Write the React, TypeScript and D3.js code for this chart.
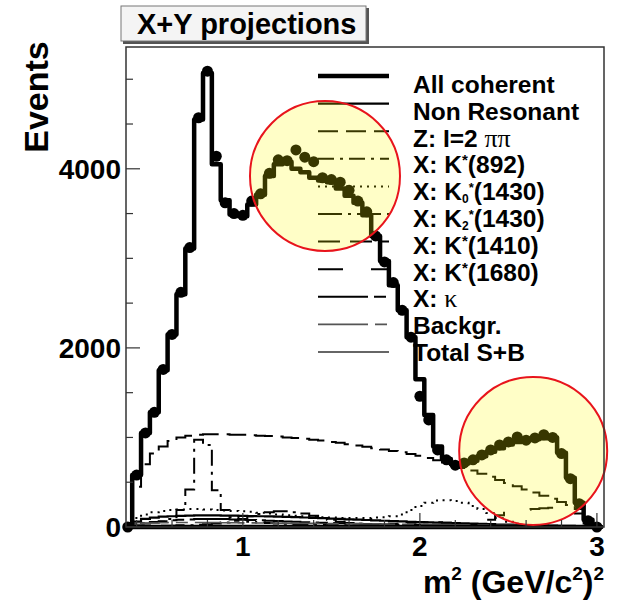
import React from "react";
import * as d3 from "d3";

// bins of 0.05 GeV^2 starting at 0.325
const binStart = 0.325;
const binWidth = 0.05;

const allCoherent = [0, 580, 1050, 1280, 1750, 2150, 2600, 3110, 4550, 5070, 4050, 3650, 3490, 3470, 3600, 3710, 3920, 4050, 4080, 4000, 3960, 3900, 3870, 3850, 3780, 3700, 3620, 3480, 3250, 2970, 2700, 2420, 2120, 1650, 1250, 900, 760, 700, 710, 740, 790, 840, 880, 920, 950, 970, 980, 990, 1000, 830, 550, 270, 80, 0];
const dataPoints = [0, 580, 1050, 1280, 1760, 2150, 2620, 3120, 4570, 5090, 4140, 3620, 3500, 3480, 3640, 3720, 3950, 4100, 4090, 4210, 4130, 4080, 3900, 3880, 3850, 3760, 3640, 3520, 3250, 2960, 2730, 2420, 2120, 1460, 1195, 860, 750, 690, 715, 750, 805, 860, 916, 950, 1005, 970, 995, 1030, 1000, 820, 540, 260, 70, 0];
const nonResonant = [0, 60, 90, 105, 115, 120, 125, 128, 130, 130, 130, 128, 126, 124, 122, 120, 118, 115, 112, 110, 106, 102, 98, 94, 90, 86, 82, 78, 74, 70, 66, 62, 58, 55, 52, 49, 46, 43, 40, 37, 34, 31, 28, 26, 24, 22, 20, 18, 16, 14, 12, 8, 4, 0];
const zI2 = [0, 450, 700, 820, 900, 960, 1000, 1020, 1030, 1035, 1035, 1035, 1030, 1030, 1025, 1020, 1015, 1010, 1000, 995, 985, 975, 965, 950, 940, 925, 910, 895, 880, 865, 850, 835, 815, 795, 770, 745, 720, 690, 660, 630, 595, 560, 525, 490, 455, 420, 385, 350, 315, 280, 245, 200, 80, 0];
const k892 = [0, 30, 40, 50, 60, 90, 190, 420, 975, 915, 410, 190, 110, 80, 60, 50, 45, 40, 35, 30, 30, 25, 25, 20, 20, 20, 15, 15, 15, 15, 10, 10, 10, 10, 10, 10, 10, 10, 10, 10, 10, 10, 10, 10, 10, 10, 10, 10, 10, 10, 10, 5, 5, 0];
const k0_1430 = [0, 100, 140, 165, 180, 190, 195, 200, 200, 195, 190, 185, 180, 175, 170, 160, 150, 140, 130, 125, 120, 115, 110, 105, 100, 100, 100, 100, 105, 110, 120, 140, 190, 235, 270, 295, 300, 290, 270, 235, 200, 156, 100, 60, 35, 20, 15, 10, 10, 10, 5, 5, 0, 0];
const k2_1430 = [0, 10, 10, 10, 15, 15, 20, 20, 25, 30, 40, 50, 70, 90, 120, 145, 165, 175, 175, 165, 150, 125, 100, 80, 60, 45, 35, 25, 20, 15, 10, 10, 10, 10, 10, 10, 10, 10, 10, 10, 10, 10, 10, 10, 10, 5, 5, 5, 5, 5, 5, 0, 0, 0];
const k1410 = [0, 5, 5, 5, 5, 5, 5, 5, 5, 5, 5, 5, 5, 5, 5, 5, 5, 5, 5, 5, 5, 5, 5, 5, 5, 5, 10, 15, 20, 28, 35, 42, 48, 52, 54, 52, 48, 42, 35, 28, 20, 15, 10, 5, 5, 5, 5, 5, 5, 5, 5, 5, 5, 5];
const k1680 = [0, 5, 5, 5, 5, 5, 5, 5, 5, 5, 5, 5, 5, 5, 5, 5, 5, 5, 5, 5, 5, 5, 5, 5, 5, 5, 5, 5, 5, 5, 5, 5, 5, 5, 5, 5, 5, 15, 25, 40, 60, 80, 130, 160, 180, 192, 200, 210, 215, 222, 220, 150, 40, 0];
const kappa = [0, 20, 40, 55, 65, 75, 80, 85, 88, 90, 90, 88, 85, 82, 78, 74, 70, 66, 62, 58, 54, 50, 47, 44, 41, 38, 35, 33, 31, 29, 27, 25, 23, 21, 20, 19, 18, 17, 16, 15, 14, 13, 12, 11, 10, 9, 8, 7, 6, 5, 4, 3, 2, 0];
const backgr = [0, 30, 40, 45, 48, 50, 50, 50, 50, 50, 50, 48, 48, 46, 46, 45, 44, 43, 42, 41, 40, 40, 39, 38, 37, 36, 35, 34, 33, 32, 31, 30, 30, 29, 28, 27, 26, 25, 24, 23, 22, 21, 20, 20, 19, 18, 17, 16, 15, 14, 12, 10, 6, 0];

const xTickLabels = [1, 2, 3];
const yTickLabels = [0, 2000, 4000];

// highlighted regions (data coords, radius in px)
const highlights = [
  { x: 1.464, y: 3920, r: 75 },
  { x: 2.64, y: 850, r: 74 },
];

// legend entries, top to bottom
const legendStyles = [
  { w: 4.5, dash: "none", color: "#000" },
  { w: 2.2, dash: "none", color: "#000" },
  { w: 2, dash: "20,8", color: "#000" },
  { w: 2, dash: "16,6,3,6", color: "#000" },
  { w: 2, dash: "2,5", color: "#000" },
  { w: 2, dash: "24,6,3,6", color: "#000" },
  { w: 2, dash: "22,10", color: "#000" },
  { w: 2, dash: "25,28", color: "#000" },
  { w: 2, dash: "50,6,12,6", color: "#000" },
  { w: 1.6, dash: "50,7,12,7", color: "#555" },
  { w: 1.6, dash: "none", color: "#333" },
];

const FONT = "Liberation Sans, Arial, Helvetica, sans-serif";
const SERIF = "Liberation Serif, DejaVu Serif, serif";

const left = 126, right = 604, top = 47, bottom = 527;

const x = d3.scaleLinear().domain([0.34, 3.04]).range([left, right]);
const y = d3.scaleLinear().domain([0, 5360]).range([bottom, top]);

function histPath(vals: number[]) {
  const pts: [number, number][] = [[binStart, 0]];
  vals.forEach((v, i) => {
    const a = binStart + i * binWidth;
    pts.push([a, v], [a + binWidth, v]);
  });
  pts.push([binStart + vals.length * binWidth, 0]);
  return d3.line<[number, number]>().x((d) => x(d[0])).y((d) => y(d[1]))(pts) || "";
}

function legendLabel(i: number) {
  switch (i) {
    case 0: return "All coherent";
    case 1: return "Non Resonant";
    case 2: return (<>Z: I=2 <tspan fontFamily={SERIF} fontWeight="normal" fontSize={26}>ππ</tspan></>);
    case 3: return (<>X: K<tspan fontSize={15} dy={-8}>*</tspan><tspan dy={8}>(892)</tspan></>);
    case 4: return (<>X: K<tspan fontSize={12} dy={3}>0</tspan><tspan fontSize={13} dy={-11}>*</tspan><tspan dy={8}>(1430)</tspan></>);
    case 5: return (<>X: K<tspan fontSize={12} dy={3}>2</tspan><tspan fontSize={13} dy={-11}>*</tspan><tspan dy={8}>(1430)</tspan></>);
    case 6: return (<>X: K<tspan fontSize={15} dy={-8}>*</tspan><tspan dy={8}>(1410)</tspan></>);
    case 7: return (<>X: K<tspan fontSize={15} dy={-8}>*</tspan><tspan dy={8}>(1680)</tspan></>);
    case 8: return (<>X: <tspan fontFamily={SERIF} fontWeight="normal" fontSize={26}>κ</tspan></>);
    case 9: return "Backgr.";
    default: return "Total S+B";
  }
}

export default function App() {
  const components = [
    { vals: nonResonant, s: legendStyles[1] },
    { vals: zI2, s: legendStyles[2] },
    { vals: k892, s: legendStyles[3] },
    { vals: k0_1430, s: legendStyles[4] },
    { vals: k2_1430, s: legendStyles[5] },
    { vals: k1410, s: legendStyles[6] },
    { vals: k1680, s: legendStyles[7] },
    { vals: kappa, s: legendStyles[8] },
    { vals: backgr, s: legendStyles[9] },
  ];
  const xMinor = d3.range(2, 16).map((i) => i * 0.2);
  const yMinor = d3.range(0, 5001, 500);

  return (
    <svg width={618} height={606} style={{ position: "absolute", left: 0, top: 0, background: "#fff" }} fontFamily={FONT} fontWeight="bold">
      <defs>
        <clipPath id="plot">
          <rect x={left} y={top - 5} width={right - left} height={bottom - top + 10} />
        </clipPath>
      </defs>

      {/* title box */}
      <rect x={123} y={8} width={246} height={36} fill="#555" />
      <rect x={121} y={6} width={245} height={35} fill="#f4f4f4" stroke="#777" strokeWidth={1} />
      <text x={137} y={34} fontSize={29}>X+Y projections</text>

      <g clipPath="url(#plot)">
        {components.map((c, i) => (
          <path key={i} d={histPath(c.vals)} fill="none" stroke={c.s.color} strokeWidth={c.s.w} strokeDasharray={c.s.dash} />
        ))}
        <path d={histPath(allCoherent) + "Z"} fill="none" stroke="#000" strokeWidth={4.5} strokeLinejoin="round" />
      </g>

      {dataPoints.map((v, i) => (
        <circle key={i} cx={x(binStart + (i + 0.5) * binWidth)} cy={y(v)} r={5.5} fill="#000" />
      ))}

      {/* legend */}
      {legendStyles.map((s, i) => (
        <g key={i}>
          <line x1={318} x2={389} y1={76 + i * 27.6} y2={76 + i * 27.6} stroke={s.color} strokeWidth={s.w} strokeDasharray={s.dash} />
          <text x={413} y={93 + i * 26.8} fontSize={24.5}>{legendLabel(i)}</text>
        </g>
      ))}

      {/* highlight circles */}
      {highlights.map((h, i) => (
        <circle key={i} cx={x(h.x)} cy={y(h.y)} r={h.r} fill="rgb(255,250,0)" fillOpacity={0.22} stroke="#e8141c" strokeWidth={2} />
      ))}

      {/* frame and axes */}
      <rect x={left} y={top} width={right - left} height={bottom - top} fill="none" stroke="#333" strokeWidth={1.5} />
      {xMinor.map((v, i) => {
        const major = Math.abs(v - Math.round(v)) < 1e-6;
        return <line key={i} x1={x(v)} x2={x(v)} y1={bottom} y2={bottom - (major ? 14 : 7)} stroke="#333" strokeWidth={1.2} />;
      })}
      {yMinor.map((v, i) => (
        <line key={i} x1={left} x2={left + (v % 2000 === 0 ? 14 : 7)} y1={y(v)} y2={y(v)} stroke="#333" strokeWidth={1.2} />
      ))}

      {yTickLabels.map((v) => (
        <text key={v} x={121} y={y(v) + 10} textAnchor="end" fontSize={28}>{v}</text>
      ))}
      {xTickLabels.map((v) => (
        <text key={v} x={x(v)} y={556} textAnchor="middle" fontSize={28}>{v}</text>
      ))}

      <text transform="translate(48,97) rotate(-90)" textAnchor="middle" fontSize={34}>Events</text>
      <text x={604} y={593} textAnchor="end" fontSize={32}>
        m<tspan fontSize={19} dy={-13}>2</tspan><tspan dy={13}> (GeV/c</tspan><tspan fontSize={19} dy={-13}>2</tspan><tspan dy={13}>)</tspan><tspan fontSize={19} dy={-13}>2</tspan>
      </text>
    </svg>
  );
}
